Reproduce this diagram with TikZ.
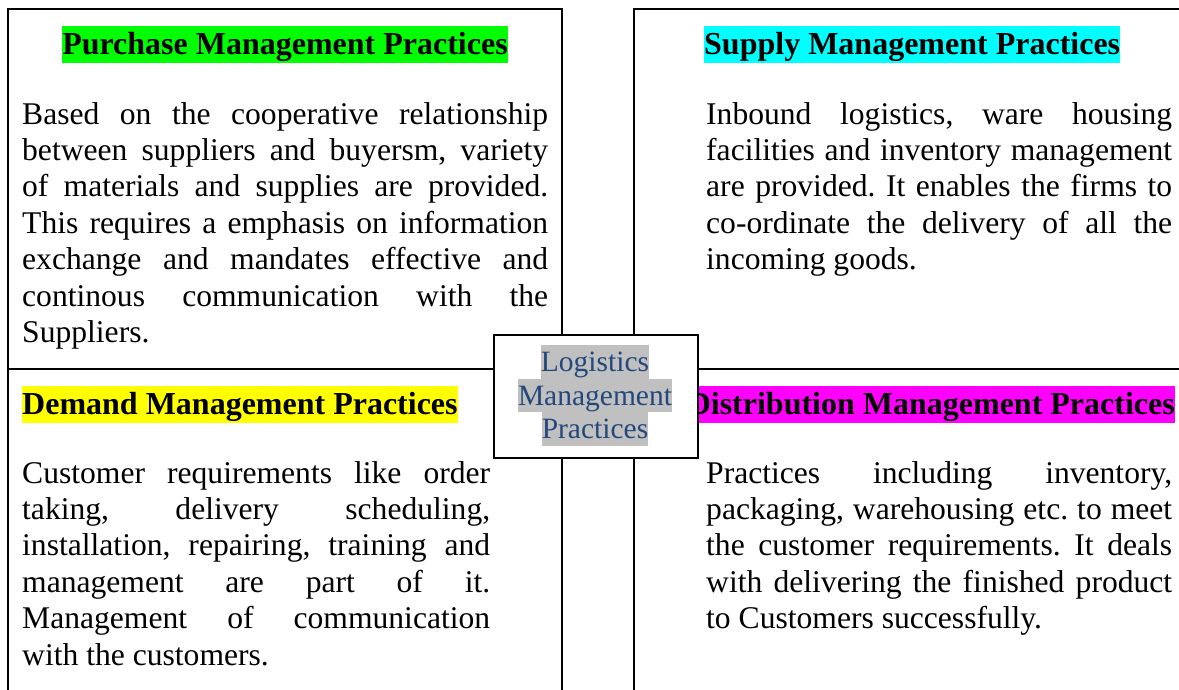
\documentclass[tikz,border=0pt]{standalone}
\usepackage{fontspec}
\setmainfont{Liberation Serif}
\definecolor{hlgreen}{RGB}{0,255,0}
\definecolor{hlcyan}{RGB}{0,255,255}
\definecolor{hlyellow}{RGB}{255,255,0}
\definecolor{hlmagenta}{RGB}{255,0,255}
\definecolor{hlgrey}{RGB}{192,192,192}
\definecolor{hubtext}{RGB}{36,72,124}
\begin{document}
\begin{tikzpicture}[x=1pt,y=-1pt,
  frame/.style={line width=2pt, line cap=rect},
  head/.style={font=\fontsize{32}{36}\selectfont\bfseries, inner sep=0pt,
    text height=28.5pt, text depth=8.5pt},
  body/.style={font=\fontsize{31.6}{36.4}\selectfont, inner sep=0pt,
    align=justify, anchor=base west,
    execute at begin node={\frenchspacing\hyphenpenalty=10000\tolerance=10000\hbadness=10000}},
  hubline/.style={font=\fontsize{29.5}{33.5}\selectfont, text=hubtext,
    fill=hlgrey, inner sep=0pt, text height=26.5pt, text depth=7pt, anchor=base}
]
\useasboundingbox (0,0) rectangle (1179,689);

% panel frames
\draw[frame] (8,689) -- (8,9) -- (562,9) -- (562,689);
\draw[frame] (634,689) -- (634,9) -- (1179,9);
\draw[frame] (8,369) -- (562,369);
\draw[frame] (634,369) -- (1179,369);

% headings
\node[head, fill=hlgreen, anchor=base] (purchase) at (285,54.5) {Purchase Management Practices};
\node[head, fill=hlcyan, anchor=base west] (supply) at (704,54.5) {Supply Management Practices};
\node[head, fill=hlyellow, anchor=base west] (demand) at (22,414.5) {Demand Management Practices};
\node[head, fill=hlmagenta, anchor=base east] (distribution) at (1175,414.5) {Distribution Management Practices};

% panel texts
\node[body, text width=526pt] (purchasetext) at (22,124) {Based on the cooperative relationship\linebreak
between suppliers and buyersm, variety\linebreak
of materials and supplies are provided.\linebreak
This requires a emphasis on information\linebreak
exchange and mandates effective and\linebreak
continous communication with the\linebreak
Suppliers.};

\node[body, text width=466pt] (supplytext) at (706,124) {Inbound logistics, ware housing\linebreak
facilities and inventory management\linebreak
are provided. It enables the firms to\linebreak
co-ordinate the delivery of all the\linebreak
incoming goods.};

\node[body, text width=468pt] (demandtext) at (22,483) {Customer requirements like order\linebreak
taking, delivery scheduling,\linebreak
installation, repairing, training and\linebreak
management are part of it.\linebreak
Management of communication\linebreak
with the customers.};

\node[body, text width=466pt] (distributiontext) at (706,483) {Practices including inventory,\linebreak
packaging, warehousing etc. to meet\linebreak
the customer requirements. It deals\linebreak
with delivering the finished product\linebreak
to Customers successfully.};

% central hub box
\node[draw, line width=2pt, fill=white, minimum width=204pt, minimum height=123pt,
  inner sep=0pt, anchor=north west] (hub) at (493,334) {};
\node[hubline] (hub1) at (595,371.5) {Logistics};
\node[hubline] (hub2) at (595,405) {Management};
\node[hubline] (hub3) at (595,438.5) {Practices};
\end{tikzpicture}
\end{document}
